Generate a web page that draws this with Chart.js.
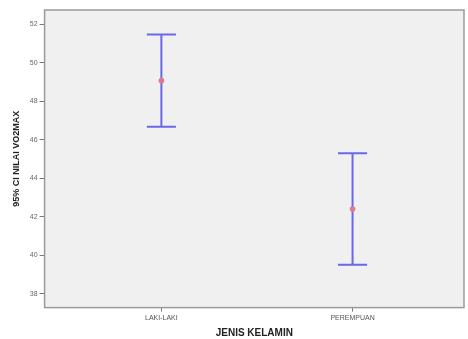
<!DOCTYPE html>
<html lang="en">
<head>
  <meta charset="UTF-8" />
  <title>95% CI Nilai VO2MAX</title>
  <script src="https://cdn.jsdelivr.net/npm/chart.js"></script>
  <style>
    html, body { margin: 0; padding: 0; background: #fff; }
    #wrap { width: 468px; height: 339px; position: relative; }
  </style>
</head>
<body>
  <div id="wrap"><canvas id="ciChart"></canvas></div>

  <script>
    // data
    const categories = ["LAKI-LAKI", "PEREMPUAN"];
    const means = [49.08, 42.41];
    const lowerCI = [46.69, 39.52];
    const upperCI = [51.48, 45.31];
    const yTicks = [38, 40, 42, 44, 46, 48, 50, 52];

    const barColor = "rgb(104, 104, 236)";
    const meanColor = "rgb(224, 120, 142)";
    const capHalf = 0.076;

    const datasets = [];
    categories.forEach((cat, i) => {
      const x = i + 1;
      datasets.push({
        data: [{ x, y: lowerCI[i] }, { x, y: upperCI[i] }],
        showLine: true, borderColor: barColor, borderWidth: 2, pointRadius: 0
      });
      datasets.push({
        data: [{ x: x - capHalf, y: upperCI[i] }, { x: x + capHalf, y: upperCI[i] }],
        showLine: true, borderColor: barColor, borderWidth: 2, pointRadius: 0
      });
      datasets.push({
        data: [{ x: x - capHalf, y: lowerCI[i] }, { x: x + capHalf, y: lowerCI[i] }],
        showLine: true, borderColor: barColor, borderWidth: 2, pointRadius: 0
      });
    });
    // means on top of the bars
    datasets.push({
      data: means.map((m, i) => ({ x: i + 1, y: m })),
      order: -1,
      showLine: false, pointRadius: 2.8, pointBackgroundColor: meanColor,
      pointBorderColor: meanColor, borderWidth: 0
    });

    const plotFrame = {
      id: "plotFrame",
      beforeDraw(chart) {
        const a = chart.chartArea, c = chart.ctx;
        c.save();
        c.fillStyle = "#f0f0f0";
        c.fillRect(a.left, a.top, a.width, a.height);
        c.restore();
      },
      afterDraw(chart) {
        const a = chart.chartArea, c = chart.ctx;
        c.save();
        c.strokeStyle = "#9a9a9a";
        c.lineWidth = 1.5;
        c.strokeRect(a.left, a.top, a.width, a.height);
        c.restore();
      }
    };

    new Chart(document.getElementById("ciChart"), {
      type: "scatter",
      data: { datasets },
      options: {
        responsive: true,
        maintainAspectRatio: false,
        animation: false,
        layout: { padding: { left: 11, right: 4, top: 10, bottom: 0 } },
        plugins: { legend: { display: false }, tooltip: { enabled: false } },
        scales: {
          x: {
            type: "linear",
            min: 0.389,
            max: 2.583,
            afterBuildTicks: axis => { axis.ticks = categories.map((c, i) => ({ value: i + 1 })); },
            ticks: {
              callback: v => categories[v - 1] || "",
              font: { family: "Liberation Sans", size: 7 },
              color: "#555",
              maxRotation: 0,
              padding: 2
            },
            grid: { display: true, drawOnChartArea: false, drawTicks: true, tickLength: 4, tickColor: "#777" },
            border: { display: false },
            title: {
              display: true,
              text: "JENIS KELAMIN",
              font: { family: "Liberation Sans", size: 10, weight: "bold" },
              color: "#222",
              padding: { top: 3, bottom: 0 }
            }
          },
          y: {
            min: 37.29,
            max: 52.75,
            afterBuildTicks: axis => { axis.ticks = yTicks.map(v => ({ value: v })); },
            ticks: {
              font: { family: "Liberation Sans", size: 7 },
              color: "#666",
              padding: 2
            },
            grid: { display: true, drawOnChartArea: false, drawTicks: true, tickLength: 5, tickColor: "#777" },
            border: { display: false },
            title: {
              display: true,
              text: "95% CI NILAI VO2MAX",
              font: { family: "Liberation Sans", size: 9, weight: "bold" },
              color: "#222",
              padding: { top: 0, bottom: 6 }
            }
          }
        }
      },
      plugins: [plotFrame]
    });
  </script>
</body>
</html>
